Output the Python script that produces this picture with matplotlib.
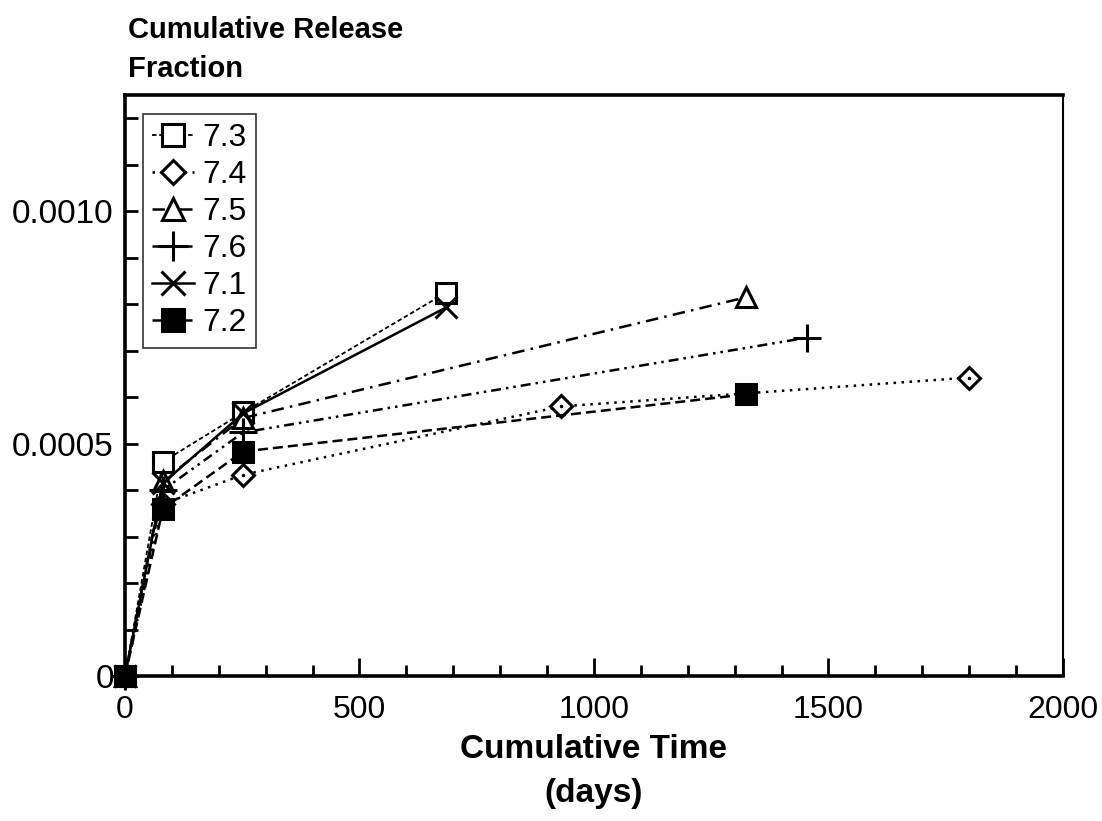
import matplotlib
matplotlib.use("Agg")
import matplotlib.pyplot as plt
from matplotlib.ticker import MultipleLocator, FixedLocator, FuncFormatter

plt.rcParams["font.family"] = ["Liberation Sans", "DejaVu Sans"]

FONTSIZE = 23

# cumulative time (days) and cumulative release fraction per test
labels = ["7.3", "7.4", "7.5", "7.6", "7.1", "7.2"]
t_73 = [0, 81, 252, 685]
f_73 = [0, 0.000461, 0.000567, 0.000825]
t_74 = [0, 81, 252, 930, 1800]
f_74 = [0, 0.000370, 0.000433, 0.000580, 0.000642]
t_75 = [0, 81, 252, 1325]
f_75 = [0, 0.000420, 0.000555, 0.000815]
t_76 = [0, 81, 252, 1455]
f_76 = [0, 0.000400, 0.000524, 0.000728]
t_71 = [0, 81, 252, 685]
f_71 = [0, 0.000415, 0.000565, 0.000793]
t_72 = [0, 81, 252, 1325]
f_72 = [0, 0.000360, 0.000483, 0.000606]

fig = plt.figure(figsize=(11.02, 8.21), dpi=100)
ax = fig.add_axes([0.1134, 0.1766, 0.8512, 0.7077])

common = dict(color="black", lw=1.8, mew=2.2, clip_on=False)
ax.plot(t_73, f_73, linestyle=(0, (2.5, 1.5)), lw=1.3, marker="s", ms=14,
        mfc="white", color="black", mew=2.2, clip_on=False, label=labels[0])
ax.plot(t_74, f_74, linestyle=(0, (1, 2.2)), marker="D", ms=11,
        mfc="white", label=labels[1], **common)
ax.plot(t_74, f_74, linestyle="none", marker=".", ms=3, color="black", clip_on=False)
ax.plot(t_75, f_75, linestyle=(0, (5, 2.5, 1, 2.5)), marker="^", ms=14,
        mfc="white", label=labels[2], **common)
ax.plot(t_76, f_76, linestyle=(0, (4, 2, 1, 2, 1, 2)), marker="+", ms=20,
        label=labels[3], **common)
ax.plot(t_71, f_71, linestyle="-", marker="x", ms=16, label=labels[4], **common)
ax.plot(t_72, f_72, linestyle=(0, (4, 2)), marker="s", ms=15,
        mfc="black", label=labels[5], **common)

ax.set_xlim(0, 2000)
ax.set_ylim(0, 0.00125)

ax.xaxis.set_major_locator(MultipleLocator(500))
ax.xaxis.set_minor_locator(MultipleLocator(100))
ax.yaxis.set_major_locator(FixedLocator([0, 0.0005, 0.0010]))
ax.yaxis.set_minor_locator(MultipleLocator(0.0001))
ax.yaxis.set_major_formatter(FuncFormatter(lambda v, p: "0" if v == 0 else f"{v:.4f}"))

ax.tick_params(axis="both", which="both", direction="in", labelsize=FONTSIZE,
               width=2, top=False, right=False)
ax.tick_params(axis="y", labelsize=24)
ax.tick_params(axis="x", which="major", length=13, pad=14)
ax.tick_params(axis="x", which="minor", length=8)
ax.tick_params(axis="y", which="major", length=9, pad=8)
ax.tick_params(axis="y", which="minor", length=9)

for side in ["left", "bottom", "top"]:
    ax.spines[side].set_linewidth(2.6)
ax.spines["right"].set_linewidth(1.5)

ax.set_xlabel("Cumulative Time\n(days)", fontsize=24, fontweight="bold",
              labelpad=6, linespacing=1.55)
fig.text(0.116, 0.981, "Cumulative Release\nFraction", fontsize=21,
         fontweight="bold", ha="left", va="top", linespacing=1.5)

leg = ax.legend(loc="upper left", bbox_to_anchor=(0.019, 0.968), fontsize=FONTSIZE,
                frameon=True, fancybox=False, edgecolor="black", handlelength=1.3,
                handletextpad=0.25, labelspacing=0.22, borderpad=0.3,
                borderaxespad=0, markerscale=1.1)
leg.get_frame().set_linewidth(1.2)

fig.savefig("out.png", dpi=100)
